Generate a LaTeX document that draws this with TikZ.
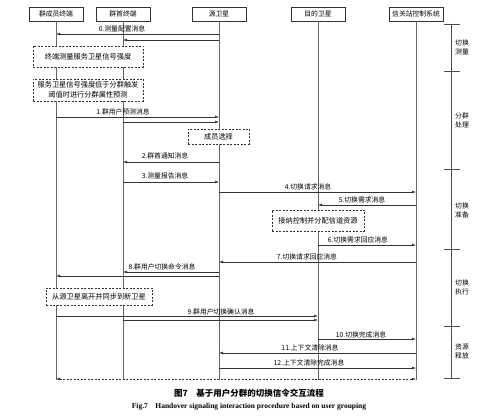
\documentclass[tikz,border=0pt]{standalone}
\usepackage{fontspec}
\setmainfont{Liberation Serif}
\newfontfamily\cjk{Noto Sans CJK SC}
\usetikzlibrary{positioning, arrows.meta}

\begin{document}
\begin{tikzpicture}[x=1pt, y=-1pt,
  ent/.style={draw, black!80, text=black, fill=white, minimum width=54pt,
    minimum height=14pt, inner sep=1pt, font=\cjk\fontsize{6.8}{8}\selectfont},
  note/.style={draw, black!80, dash pattern=on 2pt off 1.5pt, text=black,
    fill=white, align=center, inner sep=1pt,
    font=\cjk\fontsize{7.2}{10.5}\selectfont},
  msg/.style={black!80, line width=0.5pt, -{Latex[length=4pt,width=2.8pt]}},
  lbl/.style={font=\cjk\fontsize{6.8}{7.5}\selectfont, inner sep=0.5pt}]
  \useasboundingbox (0,0) rectangle (498,419);
  % Header boxes
  \node[ent] (mem)  at (56,14)  {群成员终端};
  \node[ent] (head) at (123,14) {群首终端};
  \node[ent] (src)  at (219,14) {源卫星};
  \node[ent] (dst)  at (318,14) {目的卫星};
  \node[ent] (gw)   at (416,14) {信关站控制系统};
  % Lifelines
  \foreach \n in {mem, head, src, dst, gw}
    \draw[black!60, line width=0.5pt] (\n.south) -- (\n |- 0,380);
  % Phase bracket
  \draw[black!70, line width=0.6pt] (451,24) -- (451,378);
  \foreach \y in {24, 71, 169, 249, 326, 378}
    \draw[black!70, line width=0.6pt] (444,\y) -- (460,\y);
  \foreach \y/\t [count=\i] in {47/{切换\\测量}, 120/{分群\\处理}, 210/{切换\\准备},
      287/{切换\\执行}, 351/{资源\\释放}}
    \node[lbl, align=left, font=\cjk\fontsize{6.8}{9}\selectfont]
      (ph\i) at (462,\y) {\t};
  % Measurement
  \node[lbl] (m0) at (122,29) {0.测量配置消息};
  \draw[msg] (src |- 0,34) -- (mem |- 0,34);
  \draw[msg] (src |- 0,40) -- (head |- 0,40);
  \node[note, minimum width=110pt, minimum height=21pt] (meas) at (88,56.5)
    {终端测量服务卫星信号强度};
  \node[note, minimum width=110pt, minimum height=22pt] (pred) at (88,90)
    {服务卫星信号强度低于分群触发\\阈值时进行分群属性预测};
  % Grouping
  \node[lbl] (m1) at (123,112) {1.群用户预测消息};
  \draw[msg] (mem |- 0,117) -- (src |- 0,117);
  \draw[msg] (head |- 0,122) -- (src |- 0,122);
  \node[note, minimum width=61pt, minimum height=15pt] (sel) at (218.5,136.5)
    {成员选择};
  \node[lbl] (m2) at (165,156) {2.群首通知消息};
  \draw[msg] (src |- 0,162) -- (head |- 0,162);
  \node[lbl] (m3) at (165,176) {3.测量报告消息};
  \draw[msg] (head |- 0,182) -- (src |- 0,182);
  % Preparation
  \node[lbl] (m4) at (308,187) {4.切换请求消息};
  \draw[msg] (src |- 0,192) -- (gw |- 0,192);
  \node[lbl] (m5) at (362,200) {5.切换需求消息};
  \draw[msg] (gw |- 0,205) -- (dst |- 0,205);
  \node[note, minimum width=92pt, minimum height=21pt] (adm) at (318,220.5)
    {接纳控制并分配信道资源};
  \node[lbl] (m6) at (358,240) {6.切换需求回应消息};
  \draw[msg] (dst |- 0,245) -- (gw |- 0,245);
  % Execution
  \node[lbl] (m7) at (307,257) {7.切换请求回应消息};
  \draw[msg] (gw |- 0,262) -- (src |- 0,262);
  \node[lbl] (m8) at (162,267) {8.群用户切换命令消息};
  \draw[msg] (src |- 0,272) -- (head |- 0,272);
  \draw[msg] (src |- 0,276) -- (mem |- 0,276);
  \node[note, minimum width=106pt, minimum height=17pt] (sync) at (99,296.5)
    {从源卫星离开并同步到新卫星};
  \node[lbl] (m9) at (221,312) {9.群用户切换确认消息};
  \draw[msg] (mem |- 0,316) -- (dst |- 0,316);
  \draw[msg] (head |- 0,320) -- (dst |- 0,320);
  % Release
  \node[lbl] (m10) at (361,335) {10.切换完成消息};
  \draw[msg] (dst |- 0,339) -- (gw |- 0,339);
  \node[lbl] (m11) at (310,348) {11.上下文清除消息};
  \draw[msg] (gw |- 0,353) -- (src |- 0,353);
  \node[lbl] (m12) at (309,363) {12.上下文清除完成消息};
  \draw[msg] (src |- 0,368) -- (gw |- 0,368);
  \draw[msg, dash pattern=on 2pt off 1.5pt,
    {Latex[length=4pt,width=2.8pt]}-{Latex[length=4pt,width=2.8pt]}]
    (mem |- 0,379) -- (gw |- 0,379);
  % Caption
  \node[font=\cjk\bfseries\fontsize{8.5}{9}\selectfont] (cap1) at (249,393)
    {图7\quad 基于用户分群的切换信令交互流程};
  \node[font=\bfseries\fontsize{7.5}{9}\selectfont] (cap2) at (249,407)
    {Fig.7\quad Handover signaling interaction procedure based on user grouping};
\end{tikzpicture}
\end{document}
